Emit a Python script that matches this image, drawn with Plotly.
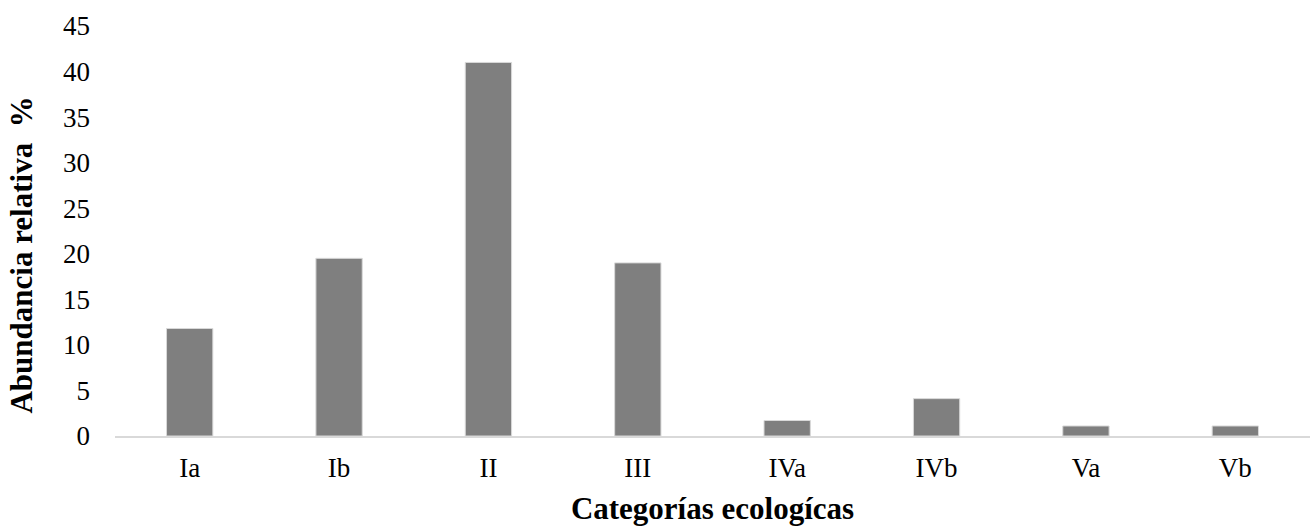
import plotly.graph_objects as go

categorias = ['Ia', 'Ib', 'II', 'III', 'IVa', 'IVb', 'Va', 'Vb']
abundancia = [11.8, 19.5, 41.0, 19.0, 1.7, 4.1, 1.1, 1.1]

fig = go.Figure()

fig.add_trace(go.Bar(
    x=categorias,
    y=abundancia,
    marker_color='#7f7f7f',
    marker_line=dict(color='#d9d9d9', width=1)
))

fig.update_xaxes(
    showline=True, linecolor='#d9d9d9', linewidth=2,
    ticks='', ticklabelstandoff=7,
    tickfont=dict(size=27, color='black'),
    title=dict(text='<b>Categorías ecologícas</b>', font=dict(size=31, color='black'), standoff=15)
)
fig.update_yaxes(
    range=[0, 45], dtick=5, showgrid=False, zeroline=False, showline=False,
    ticklabelstandoff=24,
    tickfont=dict(size=27, color='black')
)

# y title sits a bit below the plot centre, as in the original
fig.add_annotation(
    text='<b>Abundancia relativa  %</b>', textangle=-90,
    xref='paper', yref='paper', x=-0.078, y=0.442,
    xanchor='center', yanchor='middle', showarrow=False,
    font=dict(size=31, color='black')
)

fig.update_layout(
    width=1310, height=529,
    font=dict(family='Liberation Serif'),
    plot_bgcolor='white', paper_bgcolor='white',
    bargap=0.69, showlegend=False,
    margin=dict(l=115, r=0, t=26, b=93)
)

fig.write_html("out.html", config={'displayModeBar': False},
               post_script="document.body.style.margin='0';")
